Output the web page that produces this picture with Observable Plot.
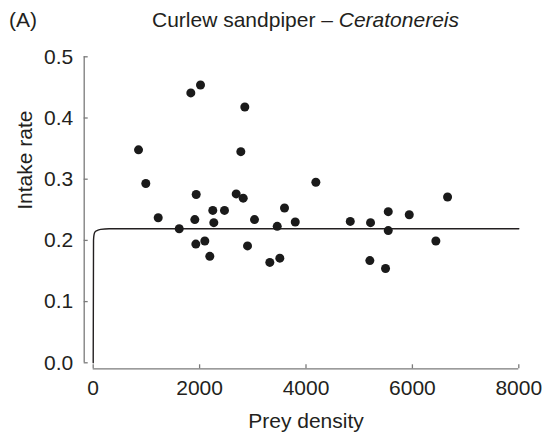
<!DOCTYPE html>
<html>
<head>
<meta charset="utf-8">
<script src="https://cdn.jsdelivr.net/npm/d3@7"></script>
<script src="https://cdn.jsdelivr.net/npm/@observablehq/plot@0.6"></script>
<style>
  html, body { margin: 0; padding: 0; background: #fff; }
  #wrap { position: relative; width: 550px; height: 434px; font-family: "Liberation Sans", Arial, sans-serif; color: #231f20; }
  #panel { position: absolute; left: 9px; top: 8px; font-size: 21px; line-height: 24px; }
  #title { position: absolute; left: 0; width: 611px; top: 8px; text-align: center; font-size: 21px; line-height: 24px; }
  #chart { position: absolute; left: 0; top: 0; }
</style>
</head>
<body>
<div id="wrap">
  <div id="chart"></div>
  <div id="panel">(A)</div>
  <div id="title">Curlew sandpiper – <i>Ceratonereis</i></div>
</div>
<script>
// Observed points: prey density and intake rate
const density = [852, 989, 1222, 1617, 1835, 2017, 1936, 1910, 2248, 2267, 2468, 2688, 2775, 2820, 2850, 3032, 3459, 3596, 3798, 4185, 1929, 2098, 2192, 2901, 3320, 3508, 4832, 5213, 5546, 5546, 5941, 5200, 5495, 6441, 6661];
const intake  = [0.348, 0.293, 0.237, 0.219, 0.441, 0.454, 0.275, 0.234, 0.249, 0.229, 0.249, 0.276, 0.345, 0.269, 0.418, 0.234, 0.223, 0.253, 0.230, 0.295, 0.194, 0.199, 0.174, 0.191, 0.164, 0.171, 0.231, 0.229, 0.247, 0.216, 0.242, 0.167, 0.154, 0.199, 0.271];

// Fitted functional response curve
const curveDensity = [0, 6, 15, 35, 70, 140, 300, 8000];
const curveIntake  = [0, 0.200, 0.209, 0.214, 0.216, 0.218, 0.219, 0.219];

// Axis ticks
const xTicks = [0, 2000, 4000, 6000, 8000];
const xTickLabels = ["0", "2000", "4000", "6000", "8000"];
const yTicks = [0, 0.1, 0.2, 0.3, 0.4, 0.5];
const yTickLabels = ["0.0", "0.1", "0.2", "0.3", "0.4", "0.5"];

const points = density.map((d, i) => ({density: d, intake: intake[i]}));
const curve = curveDensity.map((d, i) => ({density: d, intake: curveIntake[i]}));
const xt = xTicks.map((v, i) => ({v, label: xTickLabels[i]}));
const yt = yTicks.map((v, i) => ({v, label: yTickLabels[i]}));

const axisColor = "#7a7a7a";
const textColor = "#231f20";
const fs = 21;

const chart = Plot.plot({
  width: 550,
  height: 434,
  marginLeft: 92.7,
  marginRight: 31.7,
  marginTop: 56.3,
  marginBottom: 71.7,
  style: {fontFamily: "'Liberation Sans', Arial, sans-serif", background: "transparent", overflow: "visible"},
  x: {domain: [0, 8000], axis: null},
  y: {domain: [0, 0.5], axis: null},
  marks: [
    // y axis line (detached to the left)
    Plot.ruleX([0], {y1: 0, y2: 0.5, dx: -9, stroke: axisColor, strokeWidth: 1.3}),
    // y ticks pointing inward
    Plot.ruleY(yt, {y: "v", x1: 0, x2: 0, insetRight: -4, dx: -9, stroke: axisColor, strokeWidth: 1.3}),
    // y tick labels
    Plot.text(yt, {y: "v", x: 0, dx: -20, text: "label", textAnchor: "end", lineAnchor: "middle", fontSize: fs, fill: textColor}),
    // x axis line (detached below)
    Plot.ruleY([0], {x1: 0, x2: 8000, dy: 6, stroke: axisColor, strokeWidth: 1.3}),
    // x ticks pointing inward
    Plot.ruleX(xt, {x: "v", y1: 0, y2: 0, insetTop: -4, dy: 6, stroke: axisColor, strokeWidth: 1.3}),
    // x tick labels
    Plot.text(xt, {x: "v", y: 0, dy: 32, text: "label", lineAnchor: "bottom", fontSize: fs, fill: textColor}),
    // axis titles
    Plot.text(["Prey density"], {frameAnchor: "bottom", dy: 65.5, lineAnchor: "bottom", fontSize: fs, fill: textColor}),
    Plot.text(["Intake rate"], {frameAnchor: "left", dx: -61, rotate: -90, lineAnchor: "bottom", fontSize: fs, fill: textColor}),
    // fitted curve
    Plot.line(curve, {x: "density", y: "intake", stroke: "#231f20", strokeWidth: 1.4, curve: "monotone-x"}),
    // observations
    Plot.dot(points, {x: "density", y: "intake", r: 4.5, fill: "#1a1a1a", stroke: "none"})
  ]
});
document.getElementById("chart").appendChild(chart);
</script>
</body>
</html>
